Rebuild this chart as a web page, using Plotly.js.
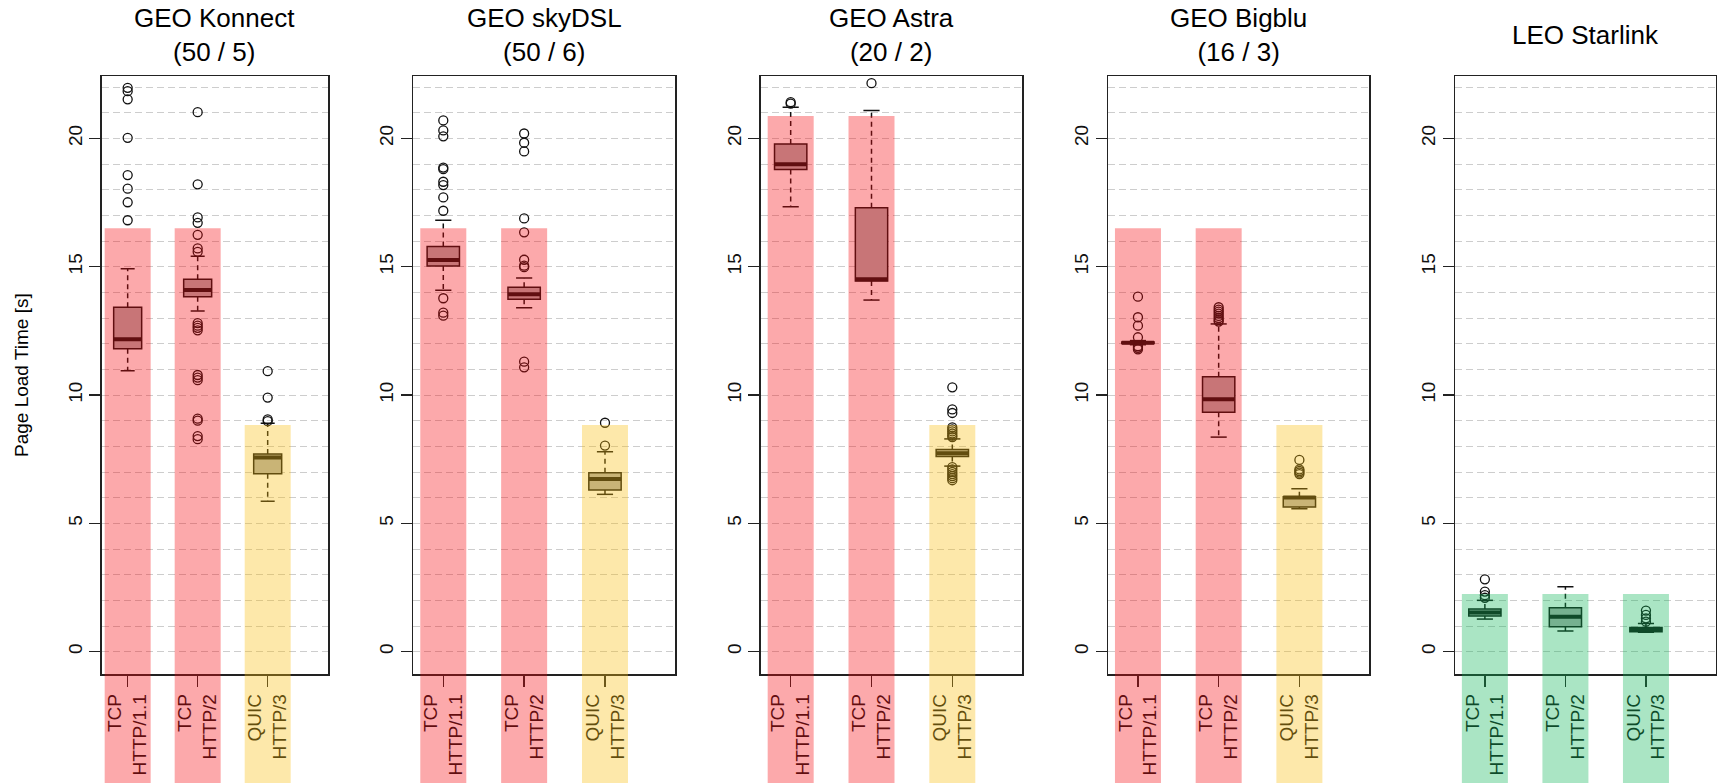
<!DOCTYPE html>
<html>
<head>
<meta charset="utf-8">
<script src="https://cdn.plot.ly/plotly-3.0.1.min.js"></script>
<style>html,body{margin:0;padding:0;background:#fff;}#chart{width:1717px;height:783px;}</style>
</head>
<body>
<div id="chart"></div>
<script>
// ---------- data ----------
const panelTitles = ['GEO Konnect<br>(50 / 5)', 'GEO skyDSL<br>(50 / 6)', 'GEO Astra<br>(20 / 2)', 'GEO Bigblu<br>(16 / 3)', 'LEO Starlink'];
const categories = ['TCP<br>HTTP/1.1', 'TCP<br>HTTP/2', 'QUIC<br>HTTP/3'];
const refLevel = [[16.5, 16.5, 8.83], [16.5, 16.5, 8.83], [20.87, 20.87, 8.83], [16.5, 16.5, 8.83], [2.25, 2.25, 2.25]];
const refGroup = [['tcp', 'tcp', 'quic'], ['tcp', 'tcp', 'quic'], ['tcp', 'tcp', 'quic'], ['tcp', 'tcp', 'quic'], ['leo', 'leo', 'leo']];
const q1 = [[11.80, 13.83, 6.93], [15.03, 13.73, 6.30], [18.79, 14.44, 7.60], [12.01, 9.33, 5.64], [1.39, 0.97, 0.78]];
const med = [[12.17, 14.09, 7.57], [15.26, 13.93, 6.73], [18.99, 14.51, 7.73], [12.04, 9.84, 6.01], [1.53, 1.36, 0.86]];
const q3 = [[13.42, 14.51, 7.70], [15.79, 14.20, 6.97], [19.78, 17.30, 7.88], [12.07, 10.71, 6.04], [1.66, 1.71, 0.94]];
const whiskLo = [[10.95, 13.27, 5.86], [14.08, 13.40, 6.13], [17.34, 13.70, 7.23], [11.96, 8.36, 5.57], [1.27, 0.81, 0.76]];
const whiskHi = [[14.92, 15.41, 8.90], [16.81, 14.56, 7.79], [21.21, 21.09, 8.29], [12.12, 12.77, 6.35], [2.00, 2.53, 1.10]];
const outliers = [
  [[21.97, 21.84, 21.52, 20.02, 18.57, 18.04, 17.51, 16.81],
   [21.02, 18.21, 16.92, 16.71, 16.24, 15.71, 15.58, 12.80, 12.70, 12.62, 12.52, 10.78, 10.68, 10.58, 9.08, 9.00, 8.40, 8.28],
   [10.93, 9.90, 9.05, 8.98]],
  [[20.70, 20.31, 20.08, 18.86, 18.80, 18.31, 18.18, 17.70, 17.18, 13.77, 13.21, 13.09],
   [20.19, 19.83, 19.49, 16.88, 16.34, 15.27, 15.04, 14.98, 11.30, 11.08],
   [8.92, 8.03]],
  [[21.41, 21.35],
   [22.15],
   [10.30, 9.44, 9.30, 8.74, 8.66, 8.58, 8.50, 8.42, 8.36, 7.19, 7.10, 7.00, 6.92, 6.84, 6.76, 6.68]],
  [[13.83, 13.03, 12.70, 12.25, 11.90, 11.84, 11.78],
   [13.42, 13.33, 13.25, 13.17, 13.08, 13.00, 12.92, 12.86],
   [7.47, 7.10, 7.04, 6.98, 6.92]],
  [[2.82, 2.34, 2.20, 2.10],
   [],
   [1.60, 1.43, 1.30, 1.17]]
];
const yTitle = 'Page Load Time [s]';

// ---------- style / layout ----------
const W = 1717, H = 783;
const framePx = [[101.7, 328.3], [413.3, 675.0], [760.7, 1022.3], [1108.0, 1369.3], [1455.0, 1715.7]];
const frameTop = 76, frameBottom = 674;
const yRange = [-0.87, 22.43];
const xRange = [0.629, 3.866];
const overlay = {tcp: 'rgba(246,9,15,0.35)', quic: 'rgba(249,189,12,0.35)', leo: 'rgba(12,181,86,0.35)'};
const FONT = 'Liberation Sans, Arial, Helvetica, sans-serif';
const ink = '#111111';
const boxFill = '#B0B0B0';
const boxHalf = 0.2, stapleHalf = 0.1;

const yDom = [(H - frameBottom) / H, (H - frameTop) / H];
const traces = [];
const shapes = [];
const annotations = [];
const layout = {
  width: W, height: H,
  margin: {l: 0, r: 0, t: 0, b: 0},
  paper_bgcolor: '#ffffff', plot_bgcolor: 'rgba(0,0,0,0)',
  showlegend: false,
  font: {family: FONT, color: ink, size: 19},
  shapes: shapes, annotations: annotations
};

for (let p = 0; p < 5; p++) {
  const sfx = p === 0 ? '' : String(p + 1);
  const xa = 'x' + sfx, ya = 'y' + sfx;
  layout['xaxis' + sfx] = {
    domain: [framePx[p][0] / W, framePx[p][1] / W],
    range: xRange, anchor: ya,
    tickmode: 'array', tickvals: [1, 2, 3], ticktext: categories,
    tickangle: -90, ticks: 'outside', ticklen: 11, tickwidth: 1.5, tickcolor: '#222',
    tickfont: {family: FONT, size: 19, color: ink},
    showgrid: false, zeroline: false,
    showline: true, mirror: true, linecolor: '#222', linewidth: 1.5,
    fixedrange: true
  };
  layout['yaxis' + sfx] = {
    domain: yDom, range: yRange, anchor: xa,
    tickmode: 'linear', tick0: 0, dtick: 5,
    tickangle: -90, ticks: 'outside', ticklen: 11, tickwidth: 1.5, tickcolor: '#222',
    tickfont: {family: FONT, size: 19, color: ink},
    showgrid: true, gridcolor: '#CDCDCD', gridwidth: 1, griddash: '7px,4px',
    minor: {tick0: 0, dtick: 1, showgrid: true, gridcolor: '#CDCDCD', gridwidth: 1, griddash: '7px,4px', ticks: ''},
    zeroline: false,
    showline: true, mirror: true, linecolor: '#222', linewidth: 1.5,
    fixedrange: true
  };

  annotations.push({
    text: panelTitles[p], xref: 'paper', yref: 'paper',
    x: (framePx[p][0] + framePx[p][1]) / 2 / W, y: 1 - 35 / H,
    xanchor: 'center', yanchor: 'middle', showarrow: false,
    font: {family: FONT, size: 26, color: '#000'}
  });

  const bottomFrac = -(H - frameBottom) / (frameBottom - frameTop);
  for (let c = 0; c < 3; c++) {
    const pos = c + 1;
    traces.push({
      type: 'box', xaxis: xa, yaxis: ya,
      x: [pos], q1: [q1[p][c]], median: [med[p][c]], q3: [q3[p][c]],
      lowerfence: [q1[p][c]], upperfence: [q3[p][c]],
      width: 2 * boxHalf, whiskerwidth: 0, boxpoints: false,
      fillcolor: boxFill, line: {color: ink, width: 1.5},
      hoverinfo: 'skip'
    });
    traces.push({
      type: 'scatter', mode: 'lines', xaxis: xa, yaxis: ya,
      x: [pos - boxHalf, pos + boxHalf], y: [med[p][c], med[p][c]],
      line: {color: ink, width: 4}, hoverinfo: 'skip'
    });
    traces.push({
      type: 'scatter', mode: 'lines', xaxis: xa, yaxis: ya,
      x: [pos, pos, null, pos, pos], y: [q3[p][c], whiskHi[p][c], null, q1[p][c], whiskLo[p][c]],
      line: {color: ink, width: 1.5, dash: '5px,4px'}, hoverinfo: 'skip'
    });
    traces.push({
      type: 'scatter', mode: 'lines', xaxis: xa, yaxis: ya,
      x: [pos - stapleHalf, pos + stapleHalf, null, pos - stapleHalf, pos + stapleHalf],
      y: [whiskHi[p][c], whiskHi[p][c], null, whiskLo[p][c], whiskLo[p][c]],
      line: {color: ink, width: 1.5}, hoverinfo: 'skip'
    });
    if (outliers[p][c].length) {
      traces.push({
        type: 'scatter', mode: 'markers', xaxis: xa, yaxis: ya,
        x: outliers[p][c].map(() => pos), y: outliers[p][c],
        marker: {symbol: 'circle-open', size: 9, color: ink, line: {width: 1.3, color: ink}},
        cliponaxis: false, hoverinfo: 'skip'
      });
    }
    shapes.push({
      type: 'rect', layer: 'above',
      xref: xa, yref: ya + ' domain',
      xsizemode: 'pixel', xanchor: pos, x0: -23, x1: 23,
      y0: bottomFrac, y1: (refLevel[p][c] - yRange[0]) / (yRange[1] - yRange[0]),
      fillcolor: overlay[refGroup[p][c]], line: {width: 0}
    });
  }
}

annotations.push({
  text: yTitle, xref: 'paper', yref: 'paper',
  x: 21 / W, y: (H - (frameTop + frameBottom) / 2) / H,
  xanchor: 'center', yanchor: 'middle', textangle: -90, showarrow: false,
  font: {family: FONT, size: 19, color: '#000'}
});

Plotly.newPlot('chart', traces, layout, {staticPlot: true, displayModeBar: false});
</script>
</body>
</html>
